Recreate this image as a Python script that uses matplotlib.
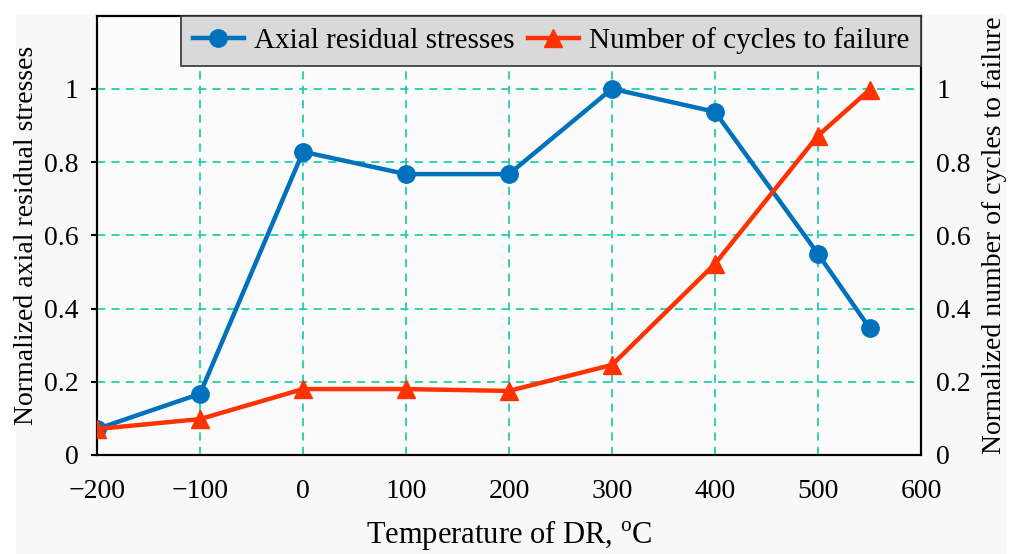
import matplotlib
matplotlib.use("Agg")
import matplotlib.pyplot as plt
from matplotlib.patches import Rectangle

plt.rcParams['font.family'] = ['Liberation Serif', 'DejaVu Serif']
plt.rcParams['mathtext.fontset'] = 'custom'
plt.rcParams['mathtext.rm'] = 'Liberation Serif'

temps = [-200, -100, 0, 100, 200, 300, 400, 500, 550]
stress = [0.071, 0.167, 0.828, 0.767, 0.767, 1.0, 0.937, 0.549, 0.347]
cycles = [0.071, 0.098, 0.18, 0.18, 0.175, 0.246, 0.522, 0.872, 0.997]
xticks = [-200, -100, 0, 100, 200, 300, 400, 500, 600]
xtick_labels = ['\u2212200', '\u2212100', '0', '100', '200', '300', '400', '500', '600']
yticks = [0, 0.2, 0.4, 0.6, 0.8, 1]
ytick_labels = ['0', '0.2', '0.4', '0.6', '0.8', '1']

blue = '#0072BD'
red = '#FF3300'
gridc = '#1FCFB0'

fig = plt.figure(figsize=(10.13, 5.54), dpi=100, facecolor='white')
fig.patches.append(Rectangle((16/1013, 0), (1006-16)/1013, 1-14/554,
                             transform=fig.transFigure, facecolor='#f8f8f8',
                             edgecolor='none', zorder=-10))
ax = fig.add_axes([97/1013, 1-455/554, (921-97)/1013, (455-15.5)/554])
ax.set_facecolor('#fbfbfb')
ax2 = ax.twinx()

l1, = ax.plot(temps, stress, '-o', color=blue, lw=3.2, ms=12.5, label='Axial residual stresses', zorder=3)
l2, = ax2.plot(temps, cycles, '-^', color=red, lw=3.2, ms=13, label='Number of cycles to failure', zorder=3)

for a in (ax, ax2):
    a.set_xlim(-200, 600)
    a.set_ylim(0, 1.2)
    a.set_yticks(yticks)
    a.set_yticklabels(ytick_labels)
    for s in a.spines.values():
        s.set_linewidth(1.5)
        s.set_color('black')

ax.set_xticks(xticks)
ax.set_xticklabels(xtick_labels)
ax.tick_params(axis='x', labelsize=20, length=0, pad=17)
ax.tick_params(axis='y', labelsize=20, length=4, width=1.5, direction='out', pad=9)
ax2.tick_params(axis='y', labelsize=20, length=0, pad=11)

ax.grid(True, color=gridc, linestyle=(0, (4.5, 3.5)), linewidth=1.3)
ax.set_axisbelow(True)

ax.set_xlabel(r'Temperature of DR, $^{\mathrm{o}}$C', fontsize=22, labelpad=10)
ax.set_ylabel('Normalized axial residual stresses', fontsize=20, labelpad=4)
ax2.set_ylabel('Normalized number of cycles to failure', fontsize=20, labelpad=8)

leg = ax2.legend([l1, l2], ['Axial residual stresses', 'Number of cycles to failure'],
                 loc='upper right', ncol=2, fontsize=21, frameon=True, fancybox=False,
                 facecolor='#d9d9d9', edgecolor='#333333', framealpha=1,
                 borderaxespad=0, handlelength=1.75, columnspacing=0.45,
                 handletextpad=0.35, borderpad=0.4)
leg.get_frame().set_linewidth(1.2)

fig.savefig('out.png', dpi=100, facecolor=fig.get_facecolor())
